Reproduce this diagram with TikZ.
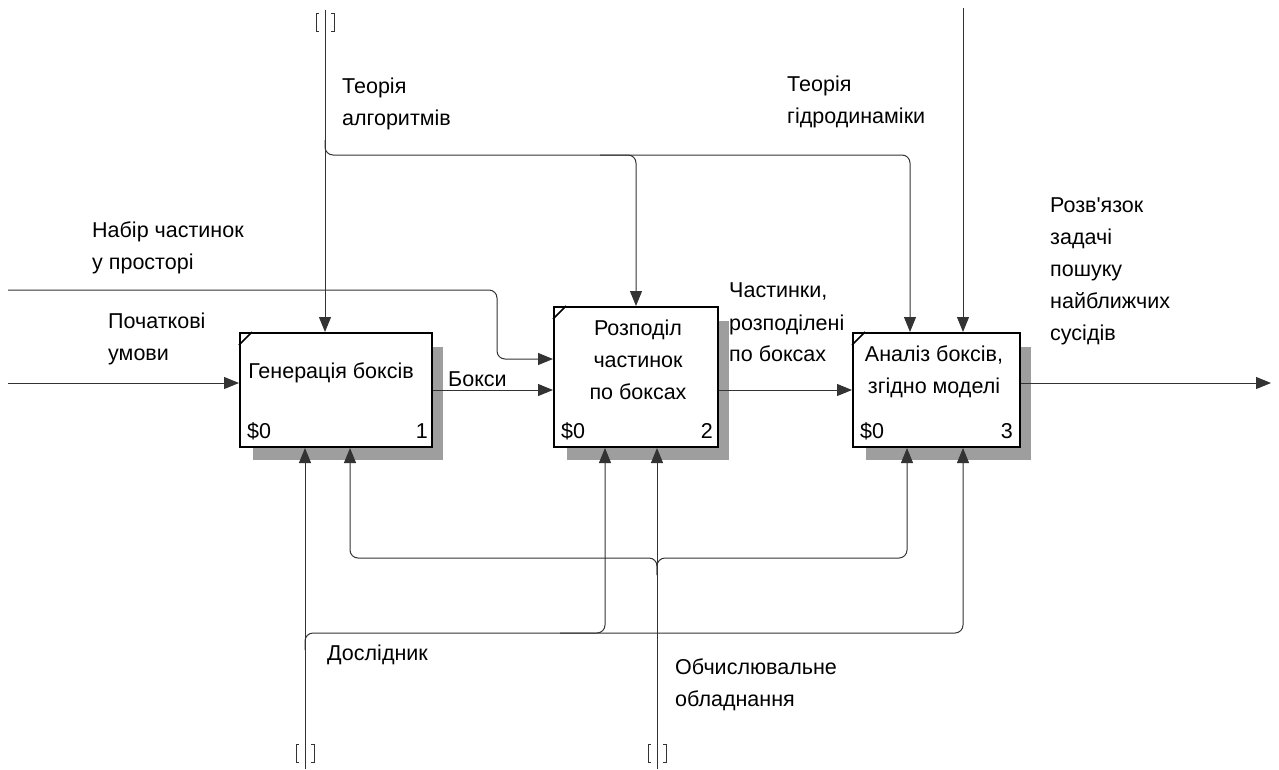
\documentclass[tikz,border=0pt]{standalone}
\usepackage{fontspec}
\setmainfont{Liberation Sans}[Ligatures=TeXOff]
\usetikzlibrary{arrows.meta,calc}
\begin{document}
\begin{tikzpicture}[x=1pt,y=-1pt,
  lbl/.style={font=\fontsize{21.5}{32}\selectfont, inner sep=0pt, align=left, anchor=north west},
  btxt/.style={font=\fontsize{21.5}{32}\selectfont, inner sep=0pt, align=center},
  small/.style={font=\fontsize{21.5}{24}\selectfont, inner sep=0pt},
  box/.style={draw=black, line width=2pt, fill=white, inner sep=0pt},
  shadow/.style={fill=black!38},
  arr/.style={draw=black!80, line width=1pt, -{Triangle[length=15pt,width=12pt]}, rounded corners=8pt},
  brk/.style={draw=black!80, line width=1pt}]
\useasboundingbox (0,0) rectangle (1279,769);
% shadows
\fill[shadow] (253,347) rectangle (443,460);
\fill[shadow] (567,321) rectangle (729,460);
\fill[shadow] (866,347) rectangle (1031,460);
% boxes
\node[box, minimum width=192pt, minimum height=114pt] (b1) at (336,390) {};
\node[box, minimum width=164pt, minimum height=140pt] (b2) at (636,377) {};
\node[box, minimum width=167pt, minimum height=114pt] (b3) at (936.5,390) {};
\foreach \b in {b1,b2,b3}{
  \draw[line width=1.5pt] ($(\b.north west)+(0,13)$) -- ($(\b.north west)+(13,0)$);
  \node[small, anchor=base west] at ($(\b.south west)+(8,-10)$) {\$0};
}
\node[small, anchor=base east] at ($(b1.south east)+(-5,-10)$) {1};
\node[small, anchor=base east] at ($(b2.south east)+(-6,-10)$) {2};
\node[small, anchor=base east] at ($(b3.south east)+(-8,-10)$) {3};
\node[btxt] (t1) at (331,373) {Генерація боксів};
\node[btxt] (t2) at (638,360) {Розподіл\\частинок\\по боксах};
\node[btxt] (t3) at (934,372) {Аналіз боксів,\\згідно моделі};
% inputs
\coordinate (in1) at (8,383);
\coordinate (in2) at (8,290);
\draw[arr] (in1) -- (in1 -| b1.west);
\draw[arr] (in2) -- (497,290) -- (497,359) -- ([yshift=18pt]b2.west);
\draw[arr] (b1.east) -- (b1.east -| b2.west);
\draw[arr] (b2.east |- b3.west) -- (b3.west);
\coordinate (out) at (1271,383);
\draw[arr] ([yshift=7pt]b3.east) -- (out);
% controls
\coordinate (c1) at (325,10);
\coordinate (c2) at (963,8);
\draw[arr] (c1) -- (c1 |- b1.north);
\draw[arr] (325,140) -- (325,155) -- (910,155) -- (910,0 |- b3.north);
\draw[arr] (600,155) -- (636,155) -- (636,0 |- b2.north);
\draw[arr] (c2) -- (c2 |- b3.north);
\draw[brk] (319,13) -- (316,13) -- (316,31) -- (319,31);
\draw[brk] (331,13) -- (334,13) -- (334,31) -- (331,31);
% mechanisms
\coordinate (m1) at (305,769);
\coordinate (m2) at (657,769);
\draw[arr] (m1) -- (m1 |- b1.south);
\draw[arr] (305,650) -- (305,633) -- (963,633) -- (963,0 |- b3.south);
\draw[arr] (560,633) -- (605,633) -- (605,0 |- b2.south);
\draw[arr] (m2) -- (m2 |- b2.south);
\draw[arr] (657,575) -- (657,558) -- (350,558) -- (350,0 |- b1.south);
\draw[arr] (657,575) -- (657,558) -- (907,558) -- (907,0 |- b3.south);
\draw[brk] (299,744) -- (296,744) -- (296,762) -- (299,762);
\draw[brk] (311,744) -- (314,744) -- (314,762) -- (311,762);
\draw[brk] (651,744) -- (648,744) -- (648,762) -- (651,762);
\draw[brk] (663,744) -- (666,744) -- (666,762) -- (663,762);
% labels
\node[lbl] (l1) at (342,78) {Теорія\\алгоритмів};
\node[lbl] (l2) at (787,76) {Теорія\\гідродинаміки};
\node[lbl] (l3) at (92,222) {Набір частинок\\у просторі};
\node[lbl] (l4) at (108,313) {Початкові\\умови};
\node[lbl] (l5) at (448,371) {Бокси};
\node[lbl] (l6) at (729,283) {Частинки,\\розподілені\\по боксах};
\node[lbl] (l7) at (1050,198) {Розв'язок\\задачі\\пошуку\\найближчих\\сусідів};
\node[lbl] (l8) at (327,645) {Дослідник};
\node[lbl] (l9) at (675,659) {Обчислювальне\\обладнання};
\end{tikzpicture}
\end{document}
